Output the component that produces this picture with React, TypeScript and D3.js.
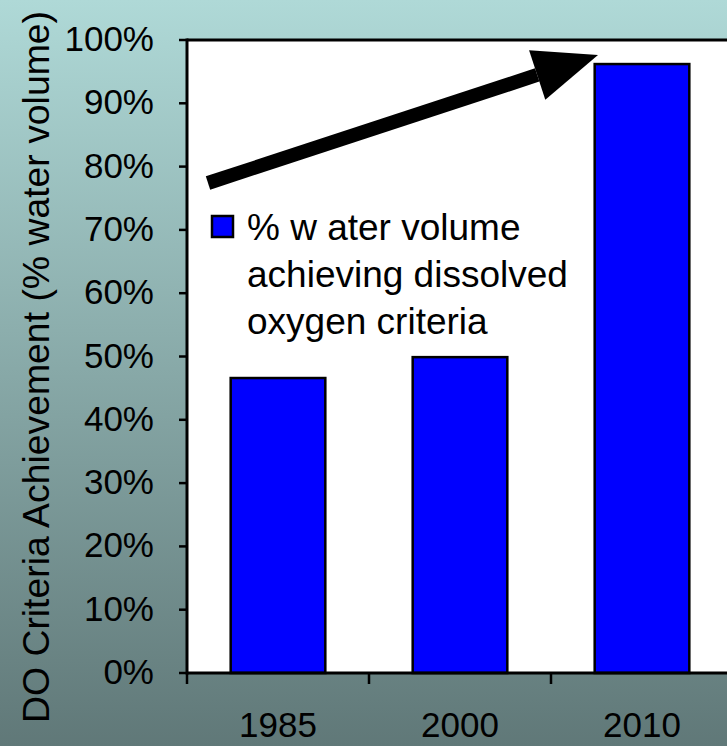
import React from "react";
import * as d3 from "d3";

const categories = ["1985", "2000", "2010"];
const values = [0.466, 0.499, 0.962];
const yTicks = [0, 0.1, 0.2, 0.3, 0.4, 0.5, 0.6, 0.7, 0.8, 0.9, 1.0];
const legendLines = ["% w ater volume", "achieving dissolved", "oxygen criteria"];
const yTitle = "DO Criteria Achievement (% water volume)";

const W = 727;
const H = 746;
const FONT = "'Liberation Sans', Arial, sans-serif";

export default function App() {
  const left = 187;
  const top = 40;
  const bottom = 673;
  const x = d3.scaleBand<string>().domain(categories).range([left, left + 3 * 182]).padding(0);
  const y = d3.scaleLinear().domain([0, 1]).range([bottom, top]);
  const bw = x.bandwidth() * 0.52;

  // arrow
  const ax0 = 208, ay0 = 183, ax1 = 598, ay1 = 55;
  const ang = Math.atan2(ay1 - ay0, ax1 - ax0);
  const headLen = 64, headHalf = 26, shaftW = 14;
  const bx = ax1 - headLen * Math.cos(ang), by = ay1 - headLen * Math.sin(ang);
  const nx = -Math.sin(ang), ny = Math.cos(ang);

  return (
    <svg width={W} height={H} style={{ position: "absolute", left: 0, top: 0 }} fontFamily={FONT}>
      <defs>
        <linearGradient id="bg" x1="0" y1="0" x2="0" y2="1">
          <stop offset="0" stopColor="#afd9d7" />
          <stop offset="1" stopColor="#607878" />
        </linearGradient>
      </defs>
      <rect x={0} y={0} width={W} height={H} fill="url(#bg)" />
      <rect x={left} y={top} width={W - left} height={bottom - top} fill="#ffffff" />
      {/* bars */}
      {categories.map((c, i) => {
        const cx = (x(c) as number) + x.bandwidth() / 2;
        return (
          <rect key={c} x={cx - bw / 2} y={y(values[i])} width={bw} height={bottom - y(values[i])}
            fill="#0000ff" stroke="#000" strokeWidth={2.5} />
        );
      })}
      {/* frame top */}
      <line x1={left} x2={W} y1={top} y2={top} stroke="#000" strokeWidth={3} />
      {/* y axis */}
      <line x1={left} x2={left} y1={top - 1.5} y2={bottom + 1.5} stroke="#000" strokeWidth={3} />
      {yTicks.map((t) => (
        <g key={t}>
          <line x1={left - 8} x2={left} y1={y(t)} y2={y(t)} stroke="#000" strokeWidth={2.5} />
          <text x={154} y={y(t) + 11} textAnchor="end" fontSize={35} fill="#000">
            {Math.round(t * 100) + "%"}
          </text>
        </g>
      ))}
      {/* x axis */}
      <line x1={left} x2={W} y1={bottom} y2={bottom} stroke="#000" strokeWidth={3} />
      {[...categories.map((c) => x(c) as number), (x(categories[2]) as number) + x.bandwidth()].map((px, i) => (
        <line key={i} x1={px} x2={px} y1={bottom} y2={bottom + 11} stroke="#000" strokeWidth={2.5} />
      ))}
      {categories.map((c) => (
        <text key={c} x={(x(c) as number) + x.bandwidth() / 2} y={737} textAnchor="middle" fontSize={35} fill="#000">
          {c}
        </text>
      ))}
      {/* y title */}
      <text transform={`translate(49,367) rotate(-90)`} textAnchor="middle" fontSize={37} fill="#000"
        textLength={712} lengthAdjust="spacingAndGlyphs">
        {yTitle}
      </text>
      {/* legend */}
      <rect x={212} y={216} width={21} height={21} fill="#0000ff" stroke="#000" strokeWidth={2.5} />
      {legendLines.map((l, i) => (
        <text key={i} x={247} y={240 + i * 47} fontSize={37} fill="#000">{l}</text>
      ))}
      {/* arrow */}
      <line x1={ax0} y1={ay0} x2={bx} y2={by} stroke="#000" strokeWidth={shaftW} />
      <polygon
        points={`${ax1},${ay1} ${bx + nx * headHalf},${by + ny * headHalf} ${bx - nx * headHalf},${by - ny * headHalf}`}
        fill="#000" />
    </svg>
  );
}
